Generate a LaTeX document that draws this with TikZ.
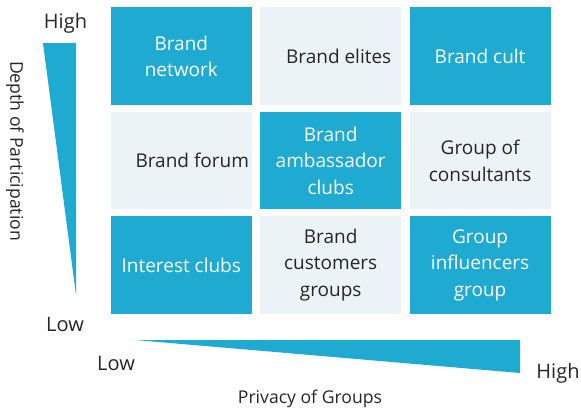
\documentclass[tikz,border=0pt]{standalone}
\usepackage{fontspec}
\setmainfont{Open Sans}
\usetikzlibrary{positioning}
\definecolor{cellblue}{RGB}{31,170,210}
\definecolor{cellpale}{RGB}{236,243,247}
\definecolor{labeltext}{RGB}{38,38,38}

\begin{document}
\begin{tikzpicture}[
    x=1pt,y=-1pt,
    node distance=6.5pt and 8pt,
    cell/.style={rectangle,minimum width=141pt,minimum height=97.5pt,inner sep=2pt,
                 align=center,font=\fontsize{19}{26.5}\selectfont},
    dark/.style={cell,fill=cellblue,text=white},
    light/.style={cell,fill=cellpale,text=labeltext},
    axislabel/.style={font=\fontsize{20}{24}\selectfont,text=labeltext,inner sep=0pt},
    axistitle/.style={font=\fontsize{17.6}{20}\selectfont,text=labeltext,inner sep=0pt}
]
    \useasboundingbox (0,0) rectangle (581,407);
    % grid of group types
    \node[dark] (network) at (181.3,56.2) {Brand\\network};
    \node[light,right=of network] (elites) {\hspace*{16pt}Brand elites};
    \node[dark,right=of elites] (cult) {Brand cult};
    \node[light,below=of network] (forum) {\hspace*{22pt}Brand forum};
    \node[dark,right=of forum] (ambassador) {Brand\\ambassador\\clubs};
    \node[light,right=of ambassador] (consultants) {Group of\\consultants};
    \node[dark,below=of forum] (interest) {Interest clubs};
    \node[light,right=of interest] (customers) {Brand\\customers\\groups};
    \node[dark,right=of customers] (influencers) {Group\\influencers\\group};
    % wedges
    \fill[cellblue] (43,43) -- (76,43) -- (76,295) -- cycle;
    \fill[cellblue] (135,340) -- (520,340) -- (520,373) -- cycle;
    % axis labels
    \node[axislabel,anchor=base] (depthhigh) at (65.5,28) {High};
    \node[axislabel,anchor=base] (depthlow) at (65,331) {Low};
    \node[axistitle,rotate=-90] (depth) at (15,151) {Depth of Participation};
    \node[axislabel,anchor=base] (privlow) at (116,370) {Low};
    \node[axislabel,anchor=base] (privhigh) at (558,378) {High};
    \node[axistitle,anchor=base] (privacy) at (310,403) {Privacy of Groups};
\end{tikzpicture}
\end{document}
